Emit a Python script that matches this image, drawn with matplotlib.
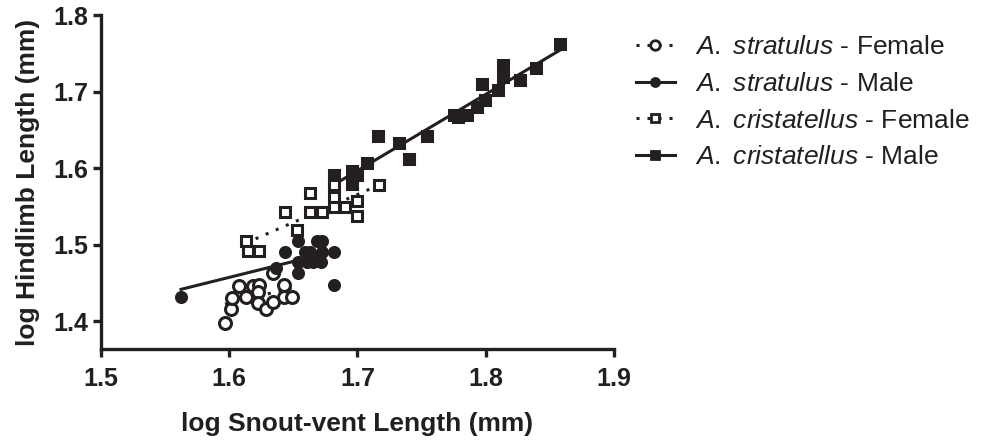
import numpy as np
import matplotlib
matplotlib.use("Agg")
import matplotlib.pyplot as plt

plt.rcParams["font.family"] = ["Liberation Sans", "DejaVu Sans"]
plt.rcParams["mathtext.fontset"] = "custom"
plt.rcParams["mathtext.it"] = "Liberation Sans:italic"
plt.rcParams["mathtext.rm"] = "Liberation Sans"

INK = "#231f20"

# ---------- Data (log SVL, log hindlimb) ----------
strat_f_x = [1.5967, 1.6014, 1.6022, 1.6076, 1.6131, 1.6186, 1.6229, 1.6225,
             1.6225, 1.6287, 1.6338, 1.6338, 1.6431, 1.6431, 1.6486]
strat_f_y = [1.3982, 1.4161, 1.4305, 1.4461, 1.4311, 1.4461, 1.4475, 1.4383,
             1.4239, 1.4161, 1.4252, 1.4625, 1.4475, 1.4318, 1.4318]

strat_m_x = [1.5624, 1.6365, 1.6435, 1.6533, 1.6539, 1.6539, 1.6591, 1.6630,
             1.6685, 1.6724, 1.6724, 1.6814, 1.6605, 1.6656, 1.6716, 1.6821]
strat_m_y = [1.4322, 1.4693, 1.4912, 1.5050, 1.4775, 1.4635, 1.4912, 1.4912,
             1.5050, 1.5050, 1.4912, 1.4912, 1.4775, 1.4775, 1.4775, 1.4475]

crist_f_x = [1.6127, 1.6147, 1.6232, 1.6529, 1.6435, 1.6630, 1.6630, 1.6720,
             1.6817, 1.6817, 1.6817, 1.6903, 1.6995, 1.6995, 1.7165]
crist_f_y = [1.5050, 1.4919, 1.4919, 1.5187, 1.5433, 1.5677, 1.5429, 1.5429,
             1.5788, 1.5629, 1.5494, 1.5494, 1.5573, 1.5376, 1.5788]

crist_m_x = [1.6817, 1.6956, 1.6956, 1.6995, 1.7075, 1.7163, 1.7327, 1.7405,
             1.7541, 1.7753, 1.7787, 1.7857, 1.7929, 1.7968, 1.7995, 1.8099,
             1.8138, 1.8138, 1.8268, 1.8393, 1.8584]
crist_m_y = [1.5906, 1.5965, 1.5795, 1.5906, 1.6069, 1.6416, 1.6331, 1.6122,
             1.6422, 1.6703, 1.6667, 1.6697, 1.6805, 1.7102, 1.6893, 1.7024,
             1.7350, 1.7190, 1.7154, 1.7307, 1.7625]

x_ticks = [1.5, 1.6, 1.7, 1.8, 1.9]
y_ticks = [1.4, 1.5, 1.6, 1.7, 1.8]

# ---------- Plot ----------
fig = plt.figure(figsize=(9.81, 4.47), dpi=100)
ax = fig.add_axes([0.103, 0.2186, 0.5227, 0.7472])

groups = [
    (strat_f_x, strat_f_y, "o", "white", 8.6, (0, (1, 2.6)), r"$\it{A.}$ $\it{stratulus}$ - Female"),
    (strat_m_x, strat_m_y, "o", INK, 7.2, "-", r"$\it{A.}$ $\it{stratulus}$ - Male"),
    (crist_f_x, crist_f_y, "s", "white", 7.6, (0, (1, 2.6)), r"$\it{A.}$ $\it{cristatellus}$ - Female"),
    (crist_m_x, crist_m_y, "s", INK, 7.6, "-", r"$\it{A.}$ $\it{cristatellus}$ - Male"),
]

handles = []
for gx, gy, mk, fc, ms, ls, label in groups:
    gx = np.array(gx)
    gy = np.array(gy)
    slope, icpt = np.polyfit(gx, gy, 1)
    xs = np.array([gx.min(), gx.max()])
    ax.plot(xs, slope * xs + icpt, color=INK, lw=2.2, ls=ls, zorder=2)
    ax.plot(gx, gy, ls="none", marker=mk, ms=ms, mfc=fc, mec=INK, mew=2.2,
            zorder=3, clip_on=False)
    h, = ax.plot([], [], color=INK, lw=2.2, ls=ls, marker=mk, ms=ms * 0.8,
                 mfc=fc, mec=INK, mew=2.0)
    handles.append((h, label))

ax.set_xlim(1.5, 1.9)
ax.set_ylim(1.3634, 1.8)
ax.set_xticks(x_ticks)
ax.set_yticks(y_ticks)
ax.set_xticklabels([f"{v:.1f}" for v in x_ticks])
ax.set_yticklabels([f"{v:.1f}" for v in y_ticks])

for side in ["top", "right"]:
    ax.spines[side].set_visible(False)
for side in ["left", "bottom"]:
    ax.spines[side].set_linewidth(2.4)
    ax.spines[side].set_color(INK)

ax.tick_params(axis="both", direction="out", length=6, width=2.4, color=INK,
               labelsize=18, labelcolor=INK)
ax.tick_params(axis="x", pad=7)
ax.tick_params(axis="y", pad=3)
for lbl in ax.get_xticklabels() + ax.get_yticklabels():
    lbl.set_fontweight("bold")

ax.set_xlabel("log Snout-vent Length (mm)", fontsize=19, fontweight="bold",
              color=INK, labelpad=15)
ax.set_ylabel("log Hindlimb Length (mm)", fontsize=19, fontweight="bold",
              color=INK, labelpad=10)

fig.legend([h for h, _ in handles], [l for _, l in handles],
           loc="upper left", bbox_to_anchor=(0.648, 0.921), frameon=False,
           fontsize=19, handlelength=1.5, handletextpad=0.76, labelspacing=0.48,
           borderpad=0, borderaxespad=0, labelcolor=INK)

fig.savefig("out.png", dpi=100)
